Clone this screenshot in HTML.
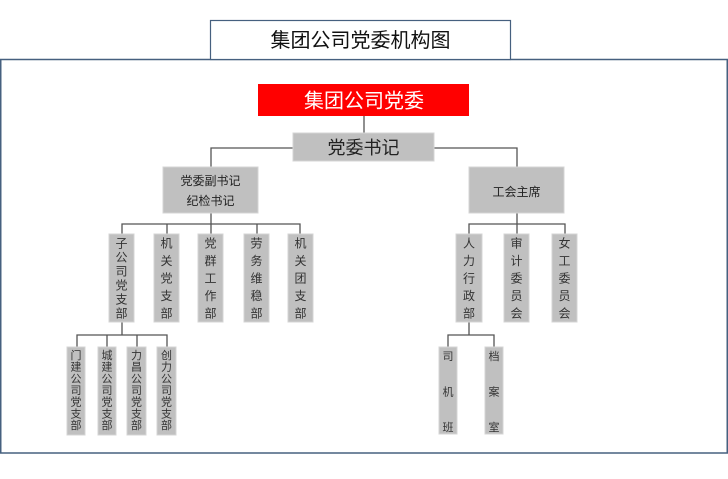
<!DOCTYPE html>
<html><head><meta charset="utf-8"><style>
html,body{margin:0;padding:0;background:#fff;}
svg{display:block;}
text{font-family:"Liberation Sans","Noto Sans CJK SC",sans-serif;}
</style></head><body>
<svg width="728" height="479" viewBox="0 0 728 479" xmlns="http://www.w3.org/2000/svg">
<rect x="0" y="0" width="728" height="479" fill="#fff"/>
<rect x="0.75" y="59.5" width="726.5" height="393.5" fill="#fff" stroke="#46607f" stroke-width="1.5"/>
<rect x="210.5" y="20.5" width="300" height="39" fill="#fff" stroke="#46607f" stroke-width="1.2"/>
<text x="360.5" y="47" font-size="20" text-anchor="middle" fill="#111">集团公司党委机构图</text>

<g stroke="#555" stroke-width="1.3" fill="none">
<line x1="364" y1="116" x2="364" y2="133"/>
<polyline points="211,167 211,148 293,148"/>
<polyline points="434,148 517,148 517,167"/>
<line x1="211" y1="213" x2="211" y2="234"/>
<polyline points="122,234 122,224 300,224 300,234"/>
<line x1="167" y1="224" x2="167" y2="234"/>
<line x1="257" y1="224" x2="257" y2="234"/>
<line x1="122" y1="322" x2="122" y2="335"/>
<polyline points="77,347 77,335 167,335 167,347"/>
<line x1="107" y1="335" x2="107" y2="347"/>
<line x1="137" y1="335" x2="137" y2="347"/>
<line x1="517" y1="213" x2="517" y2="234"/>
<polyline points="469,234 469,224 565,224 565,234"/>
<line x1="469" y1="322" x2="469" y2="335"/>
<polyline points="448,347 448,335 494,335 494,347"/>
</g>

<rect x="258" y="84" width="211" height="32" fill="#ff0000"/>
<text x="364" y="107.5" font-size="20" text-anchor="middle" fill="#fff">集团公司党委</text>

<g fill="#c0c0c0" stroke="#d4d4d4" stroke-width="1">
<rect x="293" y="133" width="141" height="28"/>
<rect x="163" y="167" width="95" height="46"/>
<rect x="469" y="167" width="95" height="46"/>
<rect x="109" y="234" width="25" height="88"/>
<rect x="154" y="234" width="25" height="88"/>
<rect x="198" y="234" width="25" height="88"/>
<rect x="244" y="234" width="25" height="88"/>
<rect x="288" y="234" width="25" height="88"/>
<rect x="456" y="234" width="26" height="88"/>
<rect x="504" y="234" width="25" height="88"/>
<rect x="552" y="234" width="25" height="88"/>
<rect x="67" y="347" width="18" height="88"/>
<rect x="98" y="347" width="18" height="88"/>
<rect x="127" y="347" width="19" height="88"/>
<rect x="157" y="347" width="19" height="88"/>
<rect x="439" y="347" width="18" height="87"/>
<rect x="485" y="347" width="18" height="87"/>
</g>

<g fill="#222" text-anchor="middle">
<text x="363.5" y="154" font-size="18">党委书记</text>
<text x="210.5" y="185" font-size="12">党委副书记</text>
<text x="210.5" y="205" font-size="12">纪检书记</text>
<text x="516.5" y="196" font-size="12">工会主席</text>
</g>

<!-- 6-char column -->
<g fill="#333" text-anchor="middle" font-size="12">
<text x="121.5" y="247.5">子</text><text x="121.5" y="261.5">公</text><text x="121.5" y="275.5">司</text><text x="121.5" y="289.5">党</text><text x="121.5" y="303.5">支</text><text x="121.5" y="317.5">部</text>
</g>

<!-- 5-char columns -->
<g fill="#333" text-anchor="middle" font-size="12">
<text x="166.5" y="247.5">机</text><text x="166.5" y="265">关</text><text x="166.5" y="282.5">党</text><text x="166.5" y="300">支</text><text x="166.5" y="317.5">部</text>
<text x="210.5" y="247.5">党</text><text x="210.5" y="265">群</text><text x="210.5" y="282.5">工</text><text x="210.5" y="300">作</text><text x="210.5" y="317.5">部</text>
<text x="256.5" y="247.5">劳</text><text x="256.5" y="265">务</text><text x="256.5" y="282.5">维</text><text x="256.5" y="300">稳</text><text x="256.5" y="317.5">部</text>
<text x="300.5" y="247.5">机</text><text x="300.5" y="265">关</text><text x="300.5" y="282.5">团</text><text x="300.5" y="300">支</text><text x="300.5" y="317.5">部</text>
<text x="469" y="247.5">人</text><text x="469" y="265">力</text><text x="469" y="282.5">行</text><text x="469" y="300">政</text><text x="469" y="317.5">部</text>
<text x="516.5" y="247.5">审</text><text x="516.5" y="265">计</text><text x="516.5" y="282.5">委</text><text x="516.5" y="300">员</text><text x="516.5" y="317.5">会</text>
<text x="564.5" y="247.5">女</text><text x="564.5" y="265">工</text><text x="564.5" y="282.5">委</text><text x="564.5" y="300">员</text><text x="564.5" y="317.5">会</text>
</g>

<!-- 7-char lower columns -->
<g fill="#333" text-anchor="middle" font-size="11">
<text x="76" y="359">门</text><text x="76" y="370.7">建</text><text x="76" y="382.3">公</text><text x="76" y="394">司</text><text x="76" y="405.7">党</text><text x="76" y="417.3">支</text><text x="76" y="429">部</text>
<text x="107" y="359">城</text><text x="107" y="370.7">建</text><text x="107" y="382.3">公</text><text x="107" y="394">司</text><text x="107" y="405.7">党</text><text x="107" y="417.3">支</text><text x="107" y="429">部</text>
<text x="136.5" y="359">力</text><text x="136.5" y="370.7">昌</text><text x="136.5" y="382.3">公</text><text x="136.5" y="394">司</text><text x="136.5" y="405.7">党</text><text x="136.5" y="417.3">支</text><text x="136.5" y="429">部</text>
<text x="166.5" y="359">创</text><text x="166.5" y="370.7">力</text><text x="166.5" y="382.3">公</text><text x="166.5" y="394">司</text><text x="166.5" y="405.7">党</text><text x="166.5" y="417.3">支</text><text x="166.5" y="429">部</text>
</g>

<!-- 3-char lower columns -->
<g fill="#333" text-anchor="middle" font-size="11">
<text x="448" y="360">司</text><text x="448" y="395.5">机</text><text x="448" y="431">班</text>
<text x="494" y="360">档</text><text x="494" y="395.5">案</text><text x="494" y="431">室</text>
</g>
</svg>
</body></html>
